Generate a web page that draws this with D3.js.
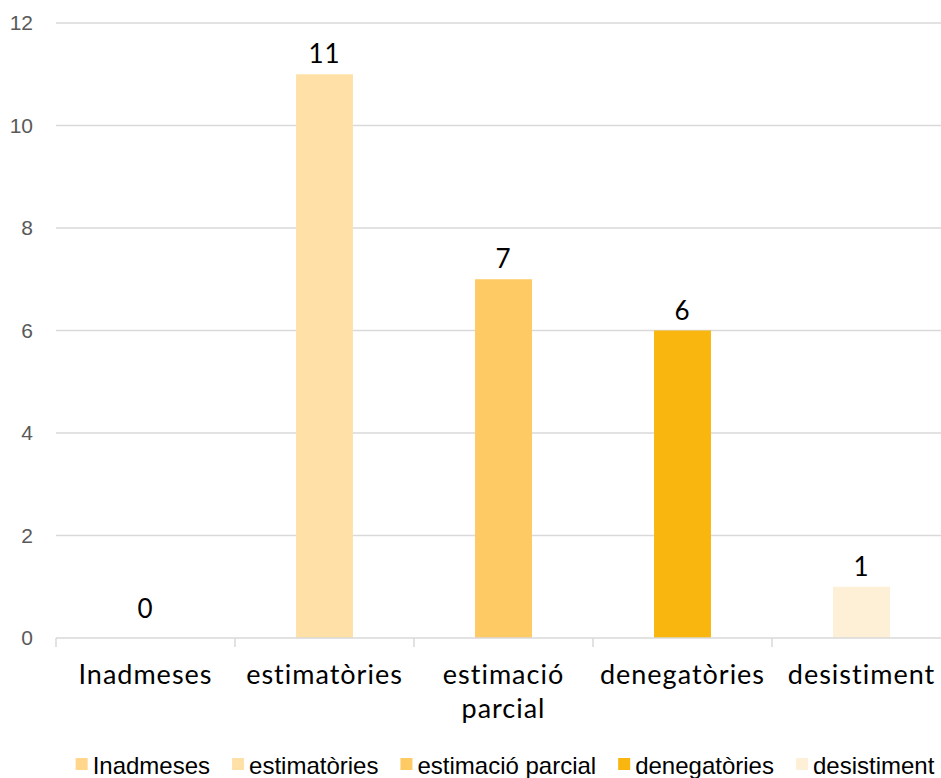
<!DOCTYPE html>
<html>
<head>
<meta charset="utf-8">
<script src="https://cdn.jsdelivr.net/npm/d3@7"></script>
<style>
  body { margin: 0; background: #fff; }
  svg { display: block; }
  text { font-variant-ligatures: none; }
</style>
</head>
<body>
<svg id="chart" width="941" height="778"></svg>
<script>
// data
var categories = ["Inadmeses", "estimatòries", "estimació parcial", "denegatòries", "desistiment"];
var values = [0, 11, 7, 6, 1];
var colors = ["#FFD68C", "#FFE1A8", "#FECA63", "#F8B60E", "#FEF0D7"];
var yTicks = [0, 2, 4, 6, 8, 10, 12];

var svg = d3.select("#chart");

var x = d3.scaleBand()
  .domain(categories)
  .range([56, 951])
  .paddingInner(0.682)
  .paddingOuter(0.341);

var y = d3.scaleLinear().domain([0, 12]).range([638, 23]);

// gridlines
svg.append("g").selectAll("line")
  .data(yTicks.slice(1)).enter()
  .append("line")
  .attr("x1", 56).attr("x2", 951)
  .attr("y1", function(d) { return y(d); })
  .attr("y2", function(d) { return y(d); })
  .attr("stroke", "#d9d9d9")
  .attr("stroke-width", 1.5);

// y labels
svg.append("g").selectAll("text")
  .data(yTicks).enter()
  .append("text")
  .attr("x", 33)
  .attr("y", function(d) { return y(d); })
  .attr("dy", "0.35em")
  .attr("text-anchor", "end")
  .attr("font-family", "'Liberation Sans', Arial, sans-serif")
  .attr("font-size", 21)
  .attr("fill", "#595959")
  .text(function(d) { return d; });

// bars
svg.append("g").selectAll("rect")
  .data(values).enter()
  .append("rect")
  .attr("x", function(d, i) { return x(categories[i]); })
  .attr("width", x.bandwidth())
  .attr("y", function(d) { return y(d); })
  .attr("height", function(d) { return y(0) - y(d); })
  .attr("fill", function(d, i) { return colors[i]; });

// x axis line + category ticks
svg.append("line")
  .attr("x1", 56).attr("x2", 951)
  .attr("y1", y(0)).attr("y2", y(0))
  .attr("stroke", "#d9d9d9").attr("stroke-width", 1.5);

var step = x.step();
svg.append("g").selectAll("line")
  .data(d3.range(categories.length + 1)).enter()
  .append("line")
  .attr("x1", function(i) { return 56 + i * step; })
  .attr("x2", function(i) { return 56 + i * step; })
  .attr("y1", y(0)).attr("y2", y(0) + 9)
  .attr("stroke", "#d9d9d9").attr("stroke-width", 1.5);

// value labels
svg.append("g").selectAll("text")
  .data(values).enter()
  .append("text")
  .attr("x", function(d, i) { return x(categories[i]) + x.bandwidth() / 2; })
  .attr("y", function(d) { return Math.min(y(d), y(0) - 9) - 11; })
  .attr("text-anchor", "middle")
  .attr("font-family", "Lato, sans-serif")
  .attr("font-size", 26)
  .attr("letter-spacing", 0.8)
  .attr("fill", "#000")
  .text(function(d) { return d; });

// category labels (wrap "estimació parcial")
var cat = svg.append("g").selectAll("text")
  .data(categories).enter()
  .append("text")
  .attr("x", function(d) { return x(d) + x.bandwidth() / 2; })
  .attr("y", 684)
  .attr("text-anchor", "middle")
  .attr("font-family", "Lato, sans-serif")
  .attr("font-size", 27)
  .attr("letter-spacing", 1)
  .attr("fill", "#000");

cat.each(function(d) {
  var words = d === "estimació parcial" ? d.split(" ") : [d];
  var t = d3.select(this);
  words.forEach(function(w, k) {
    t.append("tspan")
      .attr("x", t.attr("x"))
      .attr("dy", k === 0 ? 0 : 34)
      .text(w);
  });
});

// legend
var legend = svg.append("g");
var items = legend.selectAll("g")
  .data(categories).enter()
  .append("g");

items.append("rect")
  .attr("width", 12).attr("height", 12)
  .attr("y", 758)
  .attr("fill", function(d, i) { return colors[i]; });

items.append("text")
  .attr("x", 17)
  .attr("y", 774)
  .attr("font-family", "'Liberation Sans', Arial, sans-serif")
  .attr("font-size", 24)
  .attr("fill", "#000")
  .text(function(d) { return d; });

var pos = 0, offsets = [];
items.each(function() {
  offsets.push(pos);
  pos += 17 + d3.select(this).select("text").node().getComputedTextLength() + 22;
});
var total = pos - 22;
var start = 505 - total / 2;
items.attr("transform", function(d, i) { return "translate(" + (start + offsets[i]) + ",0)"; });
</script>
</body>
</html>
